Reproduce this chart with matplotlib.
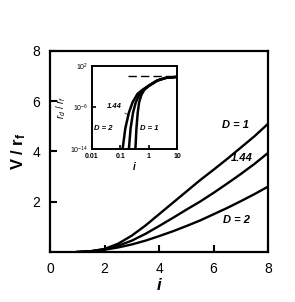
import numpy as np
import matplotlib
matplotlib.use("Agg")
import matplotlib.pyplot as plt

plt.rcParams['font.family'] = ['Liberation Sans', 'DejaVu Sans']
plt.rcParams['mathtext.fontset'] = 'custom'
plt.rcParams['mathtext.rm'] = 'Liberation Sans'
plt.rcParams['mathtext.it'] = 'Liberation Sans:italic'
plt.rcParams['mathtext.bf'] = 'Liberation Sans:bold'
plt.rcParams['mathtext.bfit'] = 'Liberation Sans:bold:italic'

# main panel: V/r_f vs i
i_main = [1.0, 1.5, 2, 2.5, 3, 3.5, 4, 4.5, 5, 5.5, 6, 6.5, 7, 7.5, 8]
v_d1 = [0, 0.03, 0.12, 0.33, 0.65, 1.05, 1.5, 1.95, 2.4, 2.85, 3.27, 3.7, 4.15, 4.6, 5.1]
v_d144 = [0, 0.03, 0.11, 0.25, 0.45, 0.72, 1.03, 1.35, 1.68, 2.0, 2.35, 2.72, 3.1, 3.5, 3.94]
v_d2 = [0, 0.03, 0.09, 0.18, 0.3, 0.45, 0.63, 0.82, 1.03, 1.25, 1.5, 1.75, 2.02, 2.3, 2.6]

# inset: r_d/r_f vs i (log-log)
i_ins_d2 = [0.12, 0.15, 0.2, 0.27, 0.4, 0.6, 1, 2, 4, 10]
r_ins_d2 = [1e-14, 1e-10, 1e-7, 1e-5, 10**-3.4, 10**-2.6, 10**-1.8, 10**-0.8, 10**-0.3, 10**-0.1]
i_ins_d144 = [0.2, 0.23, 0.28, 0.35, 0.47, 0.65, 1, 2, 4, 10]
r_ins_d144 = [1e-14, 1e-10, 1e-7, 1e-5, 10**-3.5, 10**-2.6, 10**-1.8, 10**-0.8, 10**-0.3, 10**-0.1]
i_ins_d1 = [0.34, 0.37, 0.41, 0.46, 0.55, 0.7, 1, 2, 4, 10]
r_ins_d1 = [1e-14, 1e-10, 1e-7, 1e-5, 10**-3.6, 10**-2.6, 10**-1.9, 10**-0.85, 10**-0.3, 10**-0.1]

fig = plt.figure(figsize=(2.95, 3.02), dpi=100)
ax = fig.add_axes([0.1695, 0.1656, 0.739, 0.666])

for y in (v_d1, v_d144, v_d2):
    ax.plot(i_main, y, color='black', lw=1.7)

ax.set_xlim(0, 8)
ax.set_ylim(0, 8)
ax.set_xticks([0, 2, 4, 6, 8])
ax.set_yticks([2, 4, 6, 8])
ax.tick_params(direction='in', length=5, width=1.5, labelsize=10, pad=7)
for s in ax.spines.values():
    s.set_linewidth(1.6)
ax.set_xlabel('$\\mathbfit{i}$', fontsize=12, labelpad=1)
ax.set_ylabel('$\\mathbf{V\\ /\\ r}_{\\mathbf{f}}$', fontsize=12, labelpad=3)

ax.text(6.8, 5.05, 'D = 1', fontsize=8, fontweight='bold', style='italic', ha='center', va='center')
ax.text(7.05, 3.75, '1.44', fontsize=8, fontweight='bold', style='italic', ha='center', va='center')
ax.text(6.85, 1.27, 'D = 2', fontsize=8, fontweight='bold', style='italic', ha='center', va='center')

# inset
ins = fig.add_axes([0.312, 0.5066, 0.288, 0.275])
for x, y in ((i_ins_d2, r_ins_d2), (i_ins_d144, r_ins_d144), (i_ins_d1, r_ins_d1)):
    ins.plot(x, y, color='black', lw=1.8)
ins.plot([0.19, 10], [1, 1], color='black', lw=1, ls=(0, (6, 3)))
ins.set_xscale('log')
ins.set_yscale('log')
ins.set_xlim(0.01, 10)
ins.set_ylim(1e-14, 1e2)
ins.set_xticks([0.01, 0.1, 1, 10])
ins.set_xticklabels(['0.01', '0.1', '1', '10'])
ins.set_yticks([1e-14, 1e-6, 1e2])
ins.set_yticklabels(['$10^{-14}$', '$10^{-6}$', '$10^{2}$'])
ins.minorticks_off()
ins.tick_params(direction='in', length=3, width=1.2, labelsize=5, pad=3)
for lab in ins.get_xticklabels() + ins.get_yticklabels():
    lab.set_fontweight('bold')
for s in ins.spines.values():
    s.set_linewidth(1.4)
ins.set_xlabel('$\\mathbfit{i}$', fontsize=7, labelpad=0)
ins.set_ylabel('$\\mathit{r}_{\\mathit{d}}\\ /\\ \\mathit{r}_{\\mathit{f}}$', fontsize=7, labelpad=1)

ins.annotate('1.44', xy=(0.2, 3e-8), xytext=(0.063, 1.3e-6), fontsize=5.5,
             fontweight='bold', style='italic', ha='center', va='center',
             arrowprops=dict(arrowstyle='-', lw=0.5, color='black', shrinkA=5, shrinkB=0))
ins.text(0.024, 1.1e-10, 'D = 2', fontsize=5.5, fontweight='bold', style='italic', ha='center', va='center')
ins.text(1.05, 1.1e-10, 'D = 1', fontsize=5.5, fontweight='bold', style='italic', ha='center', va='center')

fig.savefig('out.png', dpi=100)
